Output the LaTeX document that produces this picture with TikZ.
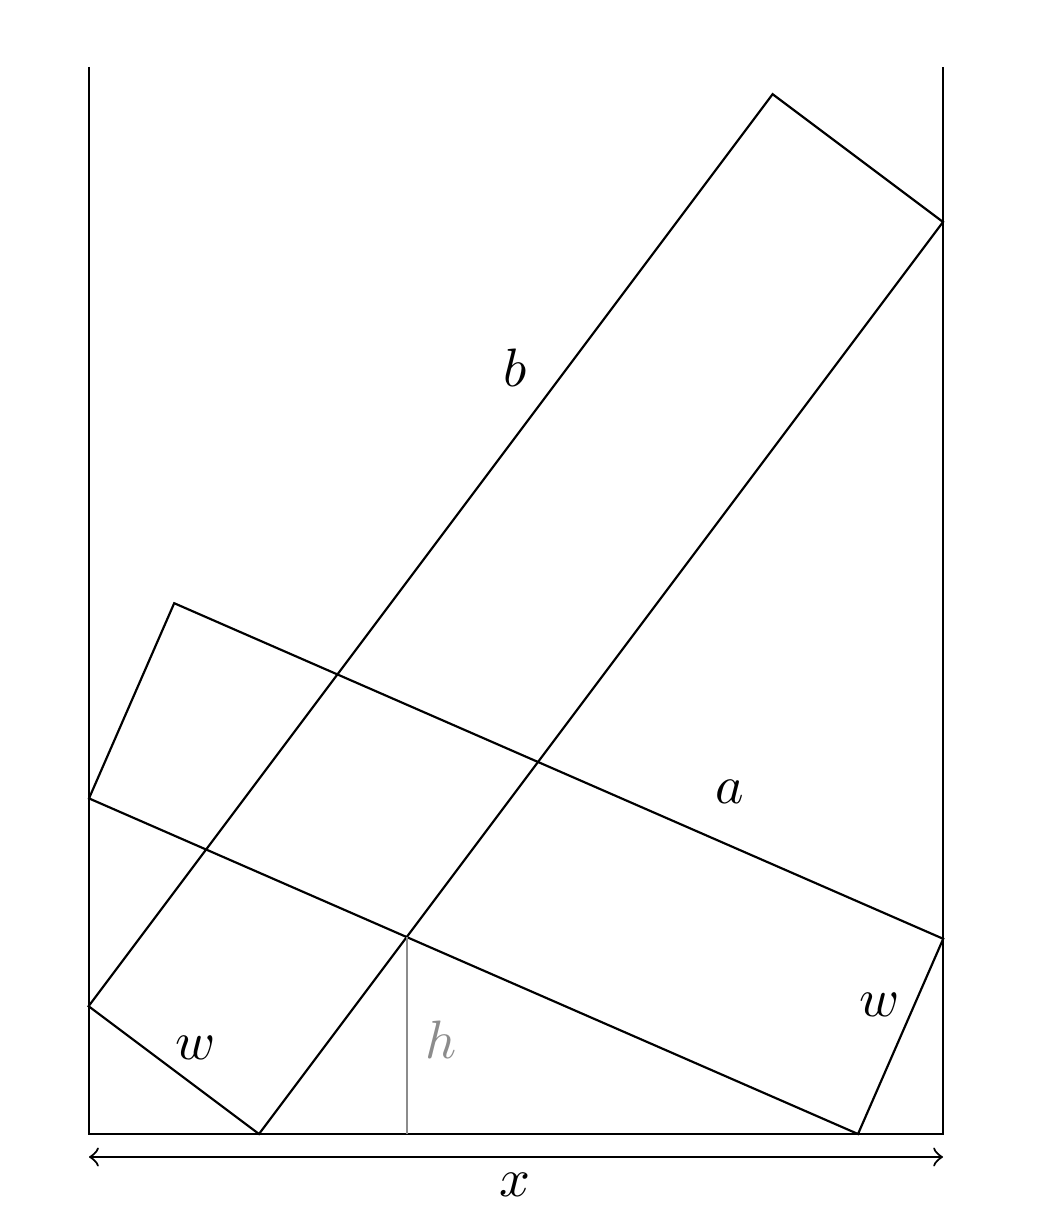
\documentclass[tikz,border=0pt]{standalone}
\usepackage{amsmath,amssymb}
\usepackage{xcolor}
\usepackage{tikz}
\definecolor{HLine}{HTML}{8C8C8C}

\begin{document}
\begin{tikzpicture}[x=0.0065cm,y=-0.0065cm]
\useasboundingbox (0,0) rectangle (1036,1216);
% walls and floor
\coordinate (wallLtop) at (89,67);
\coordinate (wallRtop) at (943,67);
\coordinate (floorL) at (89,1134);
\coordinate (floorR) at (943,1134);
\draw (wallLtop)--(floorL)--(floorR)--(wallRtop);
% board b
\coordinate (b0) at (259,1134);
\coordinate (b1) at (943,222);
\coordinate (b2) at (772.6,94.2);
\coordinate (b3) at (88.6,1006.2);
\draw (b0)--(b1)--(b2)--(b3)--cycle;
% board a
\coordinate (a0) at (858,1134);
\coordinate (a1) at (943.2,938.8);
\coordinate (a2) at (174.2,603.2);
\coordinate (a3) at (89,798.4);
\draw (a0)--(a1)--(a2)--(a3)--cycle;
% height
\coordinate (htop) at (intersection of b0--b1 and a3--a0);
\draw[HLine] (htop)--(htop|-floorL);
\node[text=HLine] (hlab) at (441,1040) {$h$};
% labels
\node (blab) at (515,368) {$b$};
\node (alab) at (730,792) {$a$};
\node (wlabL) at (196,1048) {$w$};
\node (wlabR) at (880,1005) {$w$};
% width x
\coordinate (xL) at (89,1157);
\coordinate (xR) at (943,1157);
\draw[<->] (xL)--(xR);
\node (xlab) at (515,1185) {$x$};
\end{tikzpicture}
\end{document}
